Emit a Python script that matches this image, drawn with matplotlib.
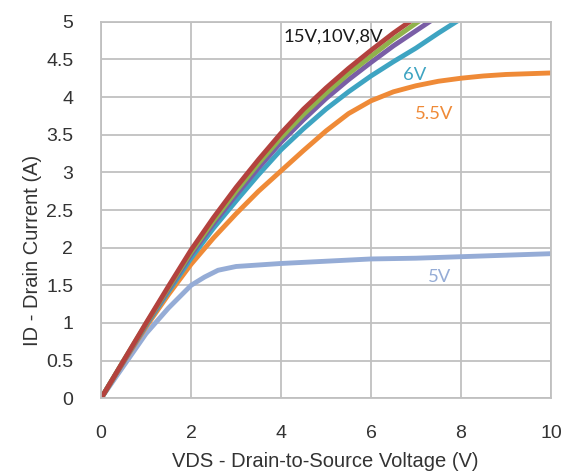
import matplotlib
matplotlib.use("Agg")
import matplotlib.pyplot as plt

# drain current curves, one per gate voltage
x_15v = [0, 0.5, 1, 1.5, 2, 2.5, 3, 3.5, 4, 4.5, 5, 5.5, 6, 6.5, 7]
id_15v = [0, 0.5, 1.0, 1.49, 1.97, 2.4, 2.8, 3.17, 3.52, 3.84, 4.12, 4.38, 4.62, 4.85, 5.06]

x_10v = [0, 0.5, 1, 1.5, 2, 2.5, 3, 3.5, 4, 4.5, 5, 5.5, 6, 6.5, 7, 7.5]
id_10v = [0, 0.5, 0.99, 1.47, 1.94, 2.36, 2.75, 3.12, 3.46, 3.77, 4.05, 4.31, 4.54, 4.77, 4.98, 5.18]

x_8v = [0, 0.5, 1, 1.5, 2, 2.5, 3, 3.5, 4, 4.5, 5, 5.5, 6, 6.5, 7, 7.5]
id_8v = [0, 0.49, 0.98, 1.45, 1.91, 2.32, 2.7, 3.06, 3.4, 3.7, 3.98, 4.23, 4.46, 4.68, 4.88, 5.08]

x_6v = [0, 0.5, 1, 1.5, 2, 2.5, 3, 3.5, 4, 4.5, 5, 5.5, 6, 6.5, 7, 7.5, 8]
id_6v = [0, 0.49, 0.97, 1.42, 1.86, 2.26, 2.62, 2.97, 3.3, 3.58, 3.84, 4.07, 4.28, 4.47, 4.65, 4.85, 5.04]

x_55v = [0, 0.5, 1, 1.5, 2, 2.5, 3, 3.5, 4, 4.5, 5, 5.5, 6, 6.5, 7, 7.5, 8, 8.5, 9, 9.5, 10]
id_55v = [0, 0.48, 0.95, 1.38, 1.78, 2.13, 2.45, 2.75, 3.02, 3.29, 3.55, 3.78, 3.95, 4.07,
          4.15, 4.21, 4.25, 4.28, 4.3, 4.31, 4.32]

x_5v = [0, 0.5, 1, 1.5, 2, 2.3, 2.6, 3, 4, 5, 6, 7, 8, 9, 10]
id_5v = [0, 0.43, 0.86, 1.2, 1.5, 1.61, 1.7, 1.75, 1.79, 1.82, 1.85, 1.86, 1.88, 1.9, 1.92]

x_ticks = [0, 2, 4, 6, 8, 10]
y_ticks = [0, 0.5, 1, 1.5, 2, 2.5, 3, 3.5, 4, 4.5, 5]

plt.rcParams['font.family'] = ['Liberation Sans', 'DejaVu Sans']

fig = plt.figure(figsize=(5.65, 4.73), dpi=100)
ax = fig.add_axes([0.179, 0.158, 0.796, 0.796])

lw = 3.5
style = dict(lw=lw, solid_joinstyle='round', solid_capstyle='round')
ax.plot(x_5v, id_5v, color='#95acd6', **style)
ax.plot(x_55v, id_55v, color='#ef8a37', **style)
ax.plot(x_6v, id_6v, color='#3ea4c2', **style)
ax.plot(x_8v, id_8v, color='#7a5ea6', **style)
ax.plot(x_10v, id_10v, color='#90b24c', **style)
ax.plot(x_15v, id_15v, color='#b3423e', **style)

ax.set_xlim(0, 10)
ax.set_ylim(0, 5)
ax.set_xticks(x_ticks)
ax.set_yticks(y_ticks)
ax.set_yticklabels([f'{v:g}' for v in y_ticks])
ax.grid(True, color='#c0c0c0', lw=1.3)
ax.set_axisbelow(True)
for s in ax.spines.values():
    s.set_color('#c0c0c0')
    s.set_linewidth(1.3)
ax.tick_params(length=0, labelsize=14, labelcolor='#333333')
ax.tick_params(axis='x', pad=19)
ax.tick_params(axis='y', pad=20)

ax.set_xlabel('VDS - Drain-to-Source Voltage (V)', fontsize=14.5, color='#333333')
ax.xaxis.set_label_coords(0.499, -0.142)
ax.set_ylabel('ID - Drain Current (A)', fontsize=14.5, color='#333333')
ax.yaxis.set_label_coords(-0.131, 0.393)

lab_font = ['Lato', 'DejaVu Sans']
ax.text(4.05, 4.8, '15V,10V,8V', fontsize=13.3, family=lab_font, color='#1a1a1a', va='center', ha='left')
ax.text(6.96, 4.29, '6V', fontsize=13.3, family=lab_font, color='#3ea4c2', va='center', ha='center')
ax.text(7.41, 3.77, '5.5V', fontsize=13.3, family=lab_font, color='#ef8a37', va='center', ha='center')
ax.text(7.52, 1.61, '5V', fontsize=13.3, family=lab_font, color='#95acd6', va='center', ha='center')

fig.savefig('out.png', dpi=100)
